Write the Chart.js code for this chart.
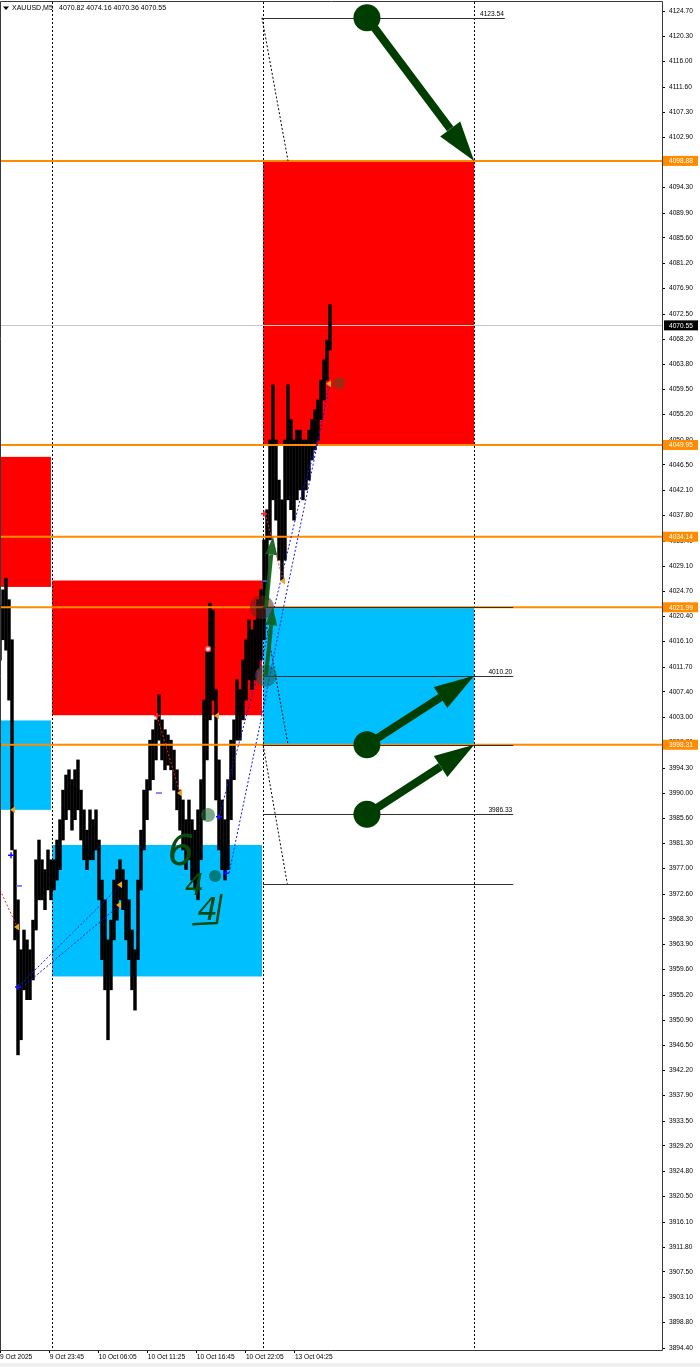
<!DOCTYPE html>
<html><head><meta charset="utf-8">
<script src="https://cdn.jsdelivr.net/npm/chart.js@4.4.1/dist/chart.umd.min.js"></script>
<style>html,body{margin:0;padding:0;background:#fff;overflow:hidden}</style>
</head><body>
<canvas id="c" width="700" height="1367" style="display:block;width:700px;height:1367px"></canvas>
<script>
// ---------- DATA ----------
const symbolTitle = 'XAUUSD,M5';
const ohlcText = '4070.82 4074.16 4070.36 4070.55';

const priceTicks = [4124.70,4120.30,4116.00,4111.60,4107.30,4102.90,4098.60,4094.30,4089.90,4085.60,4081.20,4076.90,4072.50,4068.20,4063.80,4059.50,4055.20,4050.80,4046.50,4042.10,4037.80,4033.40,4029.10,4024.70,4020.40,4016.10,4011.70,4007.40,4003.00,3998.70,3994.30,3990.00,3985.60,3981.30,3977.00,3972.60,3968.30,3963.90,3959.60,3955.20,3950.90,3946.50,3942.20,3937.90,3933.50,3929.20,3924.80,3920.50,3916.10,3911.80,3907.50,3903.10,3898.80,3894.40];

const timeTickBars = [0, 65, 129, 193, 257, 321, 385];
const timeTickLabels = ['9 Oct 2025','9 Oct 23:45','10 Oct 06:05','10 Oct 11:25','10 Oct 16:45','10 Oct 22:05','13 Oct 04:25'];

const CANDLE_STEP = 3.916; // bars between sampled columns
const candleHigh = [4022.4,4025.0,4027.0,4023.3,4016.4,3980.2,3971.6,3963.0,3966.4,3964.7,3963.0,3968.1,3978.5,3981.9,3978.5,3976.8,3980.2,3978.5,3978.5,3981.9,3985.4,3990.5,3993.1,3994.0,3992.3,3994.0,3995.7,3990.5,3987.1,3983.6,3987.1,3985.4,3987.1,3981.9,3975.0,3971.6,3964.7,3968.1,3975.0,3976.8,3978.5,3976.8,3975.0,3971.6,3966.4,3963.0,3975.0,3983.6,3990.5,3992.3,3999.1,4000.9,4002.6,4006.9,4002.6,4000.9,4000.0,3999.1,3997.4,3994.0,3990.5,3988.8,3985.4,3988.8,3985.4,3983.6,3987.1,3992.3,4006.0,4014.6,4022.7,4021.5,4007.8,3995.7,3988.8,3985.4,3992.3,3999.1,4002.6,4009.5,4007.8,4012.9,4016.4,4019.8,4018.1,4019.8,4023.3,4025.0,4033.6,4038.8,4050.8,4060.3,4050.8,4043.9,4040.5,4050.8,4060.3,4054.3,4050.8,4052.5,4052.5,4050.8,4050.8,4052.5,4054.3,4056.0,4057.7,4061.1,4064.6,4068.0,4074.1];
const candleLow = [4012.9,4016.4,4014.6,4006.0,3980.2,3964.7,3944.9,3947.5,3956.1,3954.4,3954.4,3957.8,3966.4,3971.6,3971.6,3969.9,3973.3,3971.6,3973.3,3975.0,3976.8,3981.9,3985.4,3987.1,3983.6,3985.4,3987.1,3981.9,3978.5,3976.8,3978.5,3978.5,3980.2,3971.6,3961.3,3956.1,3947.5,3956.1,3964.7,3968.1,3971.6,3969.9,3964.7,3961.3,3956.1,3952.6,3961.3,3973.3,3980.2,3985.4,3990.5,3992.3,3995.7,3999.1,3995.7,3994.0,3994.8,3994.0,3990.5,3987.1,3983.6,3980.2,3976.8,3978.5,3975.0,3973.3,3971.6,3978.5,3985.4,3995.7,4002.6,4006.0,3988.8,3980.2,3976.8,3975.0,3976.8,3985.4,3992.3,3999.1,3999.1,4002.6,4006.0,4009.5,4007.8,4009.5,4011.2,4012.9,4016.4,4023.3,4033.6,4040.5,4037.0,4030.1,4026.7,4030.1,4040.5,4038.8,4037.0,4040.5,4042.2,4040.5,4042.2,4043.9,4047.4,4049.1,4050.8,4054.3,4057.7,4061.1,4066.3];

// zones: [barStart, barEnd, priceTop, priceBottom]
const zonesRed = [[0,66.5,4047.9,4025.5],[68,342,4026.6,4003.4],[343.5,619,4098.88,4049.95]];
const zonesBlue = [[0,66.5,4002.5,3987.1],[68,342,3981.05,3958.4],[343.5,619,4021.99,3998.31]];

const orangeLevels = [4098.88, 4049.95, 4034.14, 4021.99, 3998.31];
const currentPrice = 4070.55;
const separatorBars = [68, 343.5, 619];

// fib levels: [price, barStart, barEnd, label]
const fibLevels = [[4123.54,342,659,'4123.54'],[4021.99,343.5,670,''],[4010.20,343.5,670,'4010.20'],[3998.31,343.5,670,''],[3986.33,343.5,670,'3986.33'],[3974.37,343.5,670,'']];
const fibDiagonals = [[342,4123.54,376,4098.88],[343.5,4021.99,376,3998.31],[343.5,3998.31,375,3974.37]];

const bigArrows = [[479,4123.54,619,4098.88],[479,3998.31,619,4010.20],[479,3986.33,619,3998.31]];
const smallArrows = [[347.3,4021.99,356.4,4034.14],[347.3,4010.20,356.4,4021.99]];

// circles: [bar, price, radius, colour]
const circles = [[342,4021.99,12,'rgba(95,35,25,0.55)'],[347,4010.2,11,'rgba(20,90,80,0.55)'],[271.5,3986.2,7,'rgba(40,110,60,0.6)'],[280.7,3975.7,6,'rgba(0,110,100,0.85)'],[442.6,4060.6,6,'rgba(140,50,20,0.85)']];

const blueDotted = [
  [[23.5,3956.6],[158,3974.2]],
  [[32.6,3956.95],[156.7,3970.7]],
  [[285.9,3985.9],[343.3,4013.8],[391.6,4040.5],[415.1,4050.8]],
  [[299,3976.2],[342,4003.4],[374.7,4024.97],[430.8,4060.6]]
];
const redDotted = [
  [[0,3973.3],[22.2,3967.0]],
  [[205,4003.27],[235,3990.0]],
  [[346,4038.2],[369.5,4026.7]]
];
const yellowMarks = [[17,3987.1],[22.2,3966.9],[156.7,3974.2],[155.4,3970.7],[235,3990.0],[283.3,4003.3],[369.5,4026.5],[429.5,4060.5]];
const blueCrosses = [[14.4,3979.3],[23.5,3956.6],[285.9,3985.9],[295,3976.2]];
const redCrosses = [[205,4003.3],[344.6,4038.1]];
const blueDashes = [[24.8,3974.0],[207.6,3990.0],[347,4026.5]];
const hollowMarks = [[271.5,4014.8]];

// handwritten note: [text, bar, price, size]
const noteGlyphs = [['6',236,3979.5,42],['4',254,3973.8,30],['4',271,3969.6,32]];
const noteStroke = [[251,3967.4],[283,3967.6],[289,3972.6]];

// ---------- CHART ----------
const FONT = "'Liberation Sans','DejaVu Sans',sans-serif";

function arrow(ctx, x1, y1, x2, y2, lw, hl, hw, r, col) {
  const a = Math.atan2(y2 - y1, x2 - x1);
  const bx = x2 - hl * Math.cos(a), by = y2 - hl * Math.sin(a);
  ctx.strokeStyle = col; ctx.fillStyle = col; ctx.lineWidth = lw; ctx.setLineDash([]);
  ctx.beginPath(); ctx.moveTo(x1, y1); ctx.lineTo(bx, by); ctx.stroke();
  ctx.beginPath(); ctx.moveTo(x2, y2);
  ctx.lineTo(bx + hw * Math.sin(a), by - hw * Math.cos(a));
  ctx.lineTo(bx - hw * Math.sin(a), by + hw * Math.cos(a));
  ctx.closePath(); ctx.fill();
  if (r > 0) { ctx.beginPath(); ctx.arc(x1, y1, r, 0, Math.PI * 2); ctx.fill(); }
}

const overlay = {
  id: 'overlay',
  beforeDatasetsDraw(chart) {
    const ctx = chart.ctx, xs = chart.scales.x, ys = chart.scales.y;
    const X = v => xs.getPixelForValue(v), Y = v => ys.getPixelForValue(v);
    ctx.save();
    const zone = (z, c) => { ctx.fillStyle = c; const x = X(z[0]), y = Y(z[2]); ctx.fillRect(x, y, X(z[1]) - x, Y(z[3]) - y); };
    zonesRed.forEach(z => zone(z, '#ff0000'));
    zonesBlue.forEach(z => zone(z, '#00bfff'));
    ctx.strokeStyle = '#c8c8c8'; ctx.lineWidth = 1;
    ctx.beginPath(); ctx.moveTo(0, Math.round(Y(currentPrice)) + 0.5); ctx.lineTo(chart.chartArea.right, Math.round(Y(currentPrice)) + 0.5); ctx.stroke();
    ctx.strokeStyle = '#000'; ctx.setLineDash([2, 2]);
    separatorBars.forEach(b => { const x = Math.round(X(b)) + 0.5; ctx.beginPath(); ctx.moveTo(x, 2); ctx.lineTo(x, 1350); ctx.stroke(); });
    ctx.restore();
  },
  afterDatasetsDraw(chart) {
    const ctx = chart.ctx, xs = chart.scales.x, ys = chart.scales.y;
    const X = v => xs.getPixelForValue(v), Y = v => ys.getPixelForValue(v);
    const R = chart.chartArea.right;
    ctx.save();
    ctx.strokeStyle = '#ff8c00'; ctx.lineWidth = 2;
    orangeLevels.forEach(p => { const y = Y(p); ctx.beginPath(); ctx.moveTo(0, y); ctx.lineTo(R, y); ctx.stroke(); });
    ctx.strokeStyle = '#303030'; ctx.lineWidth = 1;
    ctx.font = '6.6px ' + FONT; ctx.fillStyle = '#000'; ctx.textAlign = 'right'; ctx.textBaseline = 'bottom';
    fibLevels.forEach(f => {
      const y = Math.round(Y(f[0])) + 0.5;
      ctx.beginPath(); ctx.moveTo(X(f[1]), y); ctx.lineTo(X(f[2]), y); ctx.stroke();
      if (f[3]) ctx.fillText(f[3], X(f[2]) - 1, y - 1);
    });
    ctx.setLineDash([2, 2]); ctx.strokeStyle = '#000';
    fibDiagonals.forEach(d => { ctx.beginPath(); ctx.moveTo(X(d[0]), Y(d[1])); ctx.lineTo(X(d[2]), Y(d[3])); ctx.stroke(); });
    const poly = (pts, c) => { ctx.strokeStyle = c; ctx.beginPath(); pts.forEach((p, i) => i ? ctx.lineTo(X(p[0]), Y(p[1])) : ctx.moveTo(X(p[0]), Y(p[1]))); ctx.stroke(); };
    blueDotted.forEach(p => poly(p, '#1010ff'));
    redDotted.forEach(p => poly(p, '#ff2020'));
    ctx.setLineDash([]);
    ctx.fillStyle = '#e8a820';
    yellowMarks.forEach(m => { const x = X(m[0]), y = Y(m[1]); ctx.beginPath(); ctx.moveTo(x - 3, y); ctx.lineTo(x + 2, y - 3.5); ctx.lineTo(x + 2, y + 3.5); ctx.closePath(); ctx.fill(); });
    ctx.lineWidth = 1.5;
    const cross = (m, c) => { const x = X(m[0]), y = Y(m[1]); ctx.strokeStyle = c; ctx.beginPath(); ctx.moveTo(x - 3, y); ctx.lineTo(x + 3, y); ctx.moveTo(x, y - 3); ctx.lineTo(x, y + 3); ctx.stroke(); };
    blueCrosses.forEach(m => cross(m, '#1010ff'));
    redCrosses.forEach(m => cross(m, '#ff2020'));
    ctx.strokeStyle = '#6060ff';
    blueDashes.forEach(m => { const x = X(m[0]), y = Y(m[1]); ctx.beginPath(); ctx.moveTo(x - 3, y); ctx.lineTo(x + 3, y); ctx.stroke(); });
    ctx.strokeStyle = '#ff4040'; ctx.fillStyle = '#fff';
    hollowMarks.forEach(m => { const x = X(m[0]), y = Y(m[1]); ctx.beginPath(); ctx.arc(x, y, 2.5, 0, Math.PI * 2); ctx.fill(); ctx.stroke(); });
    circles.forEach(c => { ctx.fillStyle = c[3]; ctx.beginPath(); ctx.arc(X(c[0]), Y(c[1]), c[2], 0, Math.PI * 2); ctx.fill(); });
    smallArrows.forEach(a => arrow(ctx, X(a[0]), Y(a[1]), X(a[2]), Y(a[3]), 4, 18, 6, 0, 'rgba(15,95,25,0.92)'));
    bigArrows.forEach(a => arrow(ctx, X(a[0]), Y(a[1]), X(a[2]), Y(a[3]), 8, 40, 12.5, 13.5, '#003d00'));
    ctx.fillStyle = '#0d4a0d'; ctx.textAlign = 'center'; ctx.textBaseline = 'middle';
    noteGlyphs.forEach(g => { ctx.font = 'italic 300 ' + g[3] + "px 'DejaVu Sans',sans-serif"; ctx.fillText(g[0], X(g[1]), Y(g[2])); });
    ctx.strokeStyle = '#0d4a0d'; ctx.lineWidth = 2.5; ctx.lineJoin = 'round';
    ctx.beginPath(); noteStroke.forEach((p, i) => i ? ctx.lineTo(X(p[0]), Y(p[1])) : ctx.moveTo(X(p[0]), Y(p[1]))); ctx.stroke();
    ctx.restore();
  },
  afterDraw(chart) {
    const ctx = chart.ctx, ys = chart.scales.y;
    const Y = v => ys.getPixelForValue(v);
    const R = chart.chartArea.right;
    ctx.save();
    ctx.strokeStyle = '#3a3a3a'; ctx.lineWidth = 1;
    ctx.beginPath(); ctx.moveTo(0.5, 1350); ctx.lineTo(0.5, 1.5); ctx.lineTo(R + 0.5, 1.5); ctx.lineTo(R + 0.5, 1350.5); ctx.lineTo(0, 1350.5); ctx.stroke();
    ctx.font = '6.6px ' + FONT; ctx.textAlign = 'left'; ctx.textBaseline = 'middle';
    orangeLevels.forEach(p => { const y = Y(p); ctx.fillStyle = '#ff8c00'; ctx.fillRect(R + 1, y - 5, 35, 10); ctx.fillStyle = '#fff'; ctx.fillText(p.toFixed(2), R + 7, y + 0.5); });
    { const y = Y(currentPrice); ctx.fillStyle = '#000'; ctx.fillRect(R + 2, y - 5, 34, 10); ctx.fillStyle = '#fff'; ctx.fillText(currentPrice.toFixed(2), R + 7, y + 0.5); }
    ctx.fillStyle = '#000'; ctx.font = '7px ' + FONT; ctx.textBaseline = 'middle';
    ctx.beginPath(); ctx.moveTo(3, 6.5); ctx.lineTo(9, 6.5); ctx.lineTo(6, 10); ctx.closePath(); ctx.fill();
    ctx.fillText(symbolTitle, 12, 8.5);
    ctx.fillText(ohlcText, 59, 8.5);
    ctx.fillStyle = '#f0f0f0'; ctx.fillRect(0, 1363, 700, 4);
    ctx.restore();
  }
};

new Chart(document.getElementById('c'), {
  type: 'bar',
  data: {
    datasets: [{
      data: candleHigh.map((h, i) => ({ x: i * CANDLE_STEP, y: [candleLow[i], h] })),
      backgroundColor: '#000', borderWidth: 0, barThickness: 2.8, borderSkipped: false
    }]
  },
  options: {
    responsive: false, animation: false, events: [], devicePixelRatio: 1,
    layout: { padding: { top: 11, left: 0, right: 0, bottom: 0 } },
    plugins: { legend: { display: false }, tooltip: { enabled: false } },
    scales: {
      x: {
        type: 'linear', min: 0, max: 864.2, offset: false,
        grid: { display: true, drawOnChartArea: false, tickLength: 3, color: '#000', offset: false },
        border: { display: false },
        ticks: { align: 'start', padding: 0, autoSkip: false, maxRotation: 0, color: '#000', font: { family: FONT, size: 6.6 },
          callback: v => { const i = timeTickBars.indexOf(v); return i >= 0 ? timeTickLabels[i] : ''; } },
        afterBuildTicks: s => { s.ticks = timeTickBars.map(v => ({ value: v })); },
        afterFit: s => { s.height = 17; }
      },
      y: {
        type: 'linear', position: 'right', min: 3894.06, max: 4124.70, beginAtZero: false,
        grid: { display: true, drawOnChartArea: false, tickLength: 3, color: '#000' },
        border: { display: false },
        ticks: { padding: 4, autoSkip: false, color: '#000', font: { family: FONT, size: 6.6 }, callback: v => Number(v).toFixed(2) },
        afterBuildTicks: s => { s.ticks = priceTicks.map(v => ({ value: v })); },
        afterFit: s => { s.width = 38; }
      }
    }
  },
  plugins: [overlay]
});
</script>
</body></html>
